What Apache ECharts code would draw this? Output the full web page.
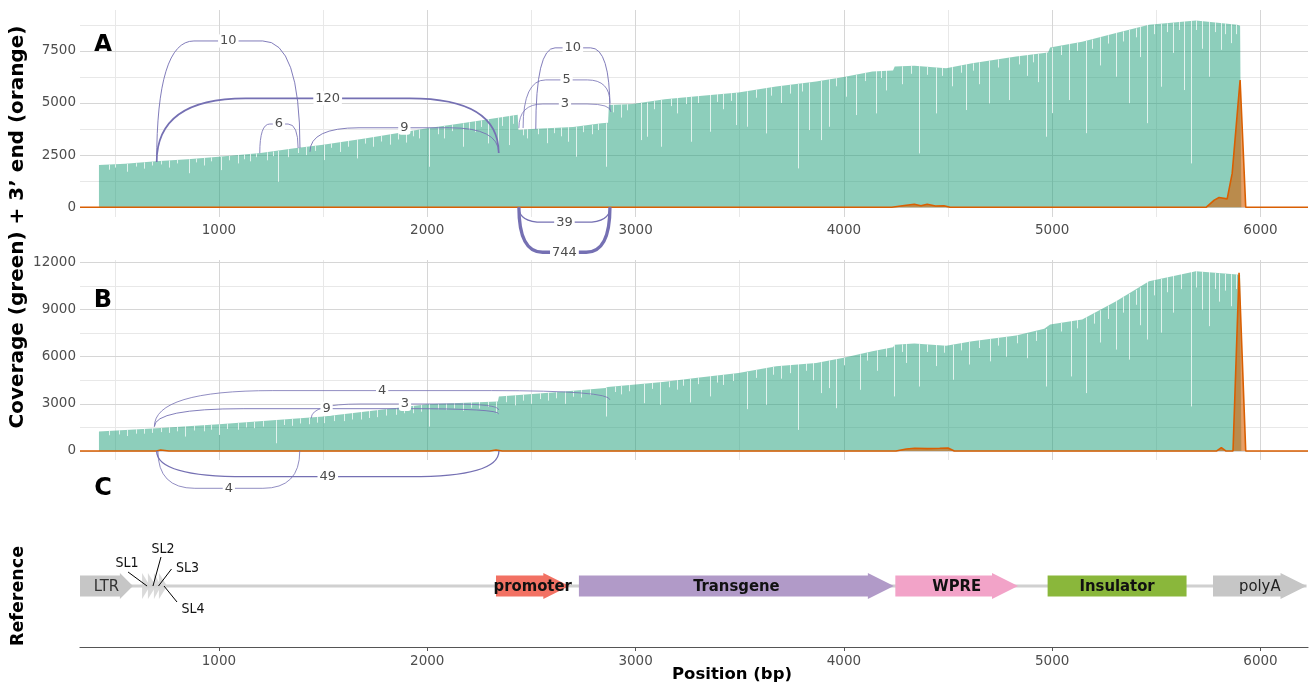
<!DOCTYPE html>
<html><head><meta charset="utf-8">
<script src="https://cdn.jsdelivr.net/npm/echarts/dist/echarts.min.js"></script>
<style>html,body{margin:0;padding:0;background:#fff}#c{width:1310px;height:685px}</style>
</head><body><div id="c"></div>
<script>
// ---------- tick values ----------
const xTicks = [1000, 2000, 3000, 4000, 5000, 6000];
const xMinor = [500, 1500, 2500, 3500, 4500, 5500];
const yTicksA = [0, 2500, 5000, 7500];
const yMinorA = [1250, 3750, 6250, 8750];
const yTicksB = [0, 3000, 6000, 9000, 12000];
const yMinorB = [1500, 4500, 7500, 10500];

// ---------- panel A : coverage envelope [position, depth] ----------
const coverageA = [[424,2020],[550,2080],[697,2200],[850,2300],[1000,2420],[1200,2600],[1363,2830],[1500,3000],[1700,3300],[2000,3790],[2150,4000],[2270,4180],[2434,4430],[2438,3700],[2500,3750],[2600,3800],[2700,3850],[2836,4030],[2868,4050],[2872,4900],[2986,4950],[3140,5180],[3307,5340],[3494,5500],[3675,5785],[3867,6025],[3993,6235],[4137,6505],[4236,6560],[4244,6745],[4338,6780],[4491,6670],[4616,6900],[4827,7230],[4980,7420],[4990,7660],[5144,7940],[5307,8360],[5465,8750],[5690,8960],[5888,8750],[5902,8700],[5908,0]];
// coverage dips [position, low, local top]
const dipsA = [[560,1700,2080],[640,1850,2150],[760,1900,2240],[858,1630,2300],[930,2000,2360],[1009,1780,2420],[1090,2100,2500],[1150,2200,2560],[1230,2250,2640],[1282,1220,2700],[1330,2400,2780],[1420,2500,2900],[1504,2260,3000],[1580,2650,3120],[1665,2340,3250],[1740,2900,3370],[1820,3000,3500],[1900,3100,3630],[1960,3300,3720],[2008,1940,3800],[2080,3300,3900],[2170,2900,4020],[2230,3600,4120],[2290,3060,4220],[2338,2620,4300],[2391,2980,4380],[2480,3300,3740],[2573,3070,3790],[2640,3400,3820],[2674,3140,3840],[2713,2420,3860],[2790,3500,3950],[2856,1940,4030],[2930,4300,4930],[3027,3220,5000],[3053,3380,5020],[3123,2900,5150],[3200,4500,5240],[3267,3140,5310],[3355,3620,5390],[3420,4700,5440],[3483,3940,5490],[3537,3860,5560],[3627,3540,5710],[3700,5000,5820],[3778,1860,5910],[3834,3700,5980],[3890,3220,6060],[3930,3860,6130],[4010,5300,6260],[4058,4420,6350],[4154,4500,6530],[4200,5600,6600],[4280,5900,6760],[4362,2580,6770],[4442,4500,6700],[4520,5800,6720],[4586,4660,6860],[4650,5900,6950],[4698,4980,7030],[4794,5140,7180],[4880,6300,7300],[4930,6000,7360],[4970,3380,7420],[5000,4510,7660],[5082,5140,7830],[5162,3550,7980],[5230,6800,8150],[5306,6260,8360],[5369,4990,8500],[5420,7200,8640],[5457,4030,8740],[5521,5780,8800],[5580,7400,8850],[5633,5620,8920],[5665,2100,8950],[5720,7600,8950],[5753,6260,8900],[5809,7550,8850],[5857,7870,8780],
 [470,1800,2040],[500,1900,2060],[600,1950,2110],[680,2000,2180],[720,2050,2210],[800,2100,2270],[890,2150,2330],[960,2200,2390],[1050,2250,2460],[1120,2300,2530],[1180,2400,2580],[1260,2450,2670],[1380,2600,2850],[1460,2700,2950],[1540,2850,3060],[1620,2900,3180],[1700,3050,3300],[1780,3150,3430],[1860,3250,3570],[1930,3400,3680],[2050,3500,3860],[2120,3650,3960],[2200,3700,4070],[2260,3850,4160],[2360,3900,4330],[2410,4000,4400],[2460,3450,3740],[2530,3500,3770],[2610,3550,3800],[2750,3600,3900],[2820,3700,4010],[2890,4550,4910],[2960,4650,4940],[3090,4700,5090],[3170,4850,5200],[3240,4950,5280],[3300,5000,5340],[3390,5050,5420],[3460,5100,5470],[3580,5250,5630],[3650,5350,5750],[3740,5450,5870],[3800,5550,5940],[3960,5800,6190],[4100,6050,6440],[4180,6200,6560],[4320,6400,6780],[4400,6350,6730],[4470,6300,6690],[4560,6450,6800],[4620,6550,6900],[4740,6700,7090],[4840,6850,7250],[4910,6950,7330],[5040,7300,7720],[5120,7500,7900],[5190,7600,8040],[5270,7850,8250],[5340,7950,8430],[5400,8150,8580],[5490,8300,8770],[5550,8400,8820],[5610,8500,8880],[5690,8500,8960],[5780,8400,8870],[5830,8300,8820],[5880,8300,8760]];
// 3' end counts
const endA = [[333,0],[4230,0],[4290,80],[4338,140],[4370,70],[4400,140],[4440,60],[4480,70],[4510,0],[5740,0],[5778,340],[5801,465],[5840,400],[5864,1620],[5902,6100],[5929,0],[6228,0]];
// junctions [start, end, y at start, y at end, apex, reads]
const junctionsA = [[701,1389,2168,2836,7975,10],[701,2343,2168,2600,5225,120],[1196,1380,2590,2830,3990,6],[1437,2343,2660,2600,3810,9],[2521,2877,3740,4660,7644,10],[2460,2877,3800,5000,6106,5],[2440,2882,3800,4567,4952,3],[2440,2877,0,0,-720,39],[2440,2877,0,0,-2160,744]];

// ---------- panel B ----------
const coverageB = [[424,1235],[700,1450],[1000,1700],[1503,2190],[2000,2980],[2339,3150],[2344,3470],[2600,3720],[2856,4000],[2866,4065],[2986,4210],[3130,4385],[3307,4680],[3494,4960],[3675,5385],[3867,5600],[3993,5920],[4137,6340],[4236,6600],[4244,6765],[4338,6830],[4491,6700],[4616,6980],[4827,7340],[4962,7770],[4990,8050],[5144,8360],[5307,9530],[5465,10800],[5690,11440],[5888,11230],[5902,11200],[5908,0]];
const dipsB = [[560,950,1350],[640,1100,1410],[760,1150,1500],[838,915,1580],[930,1250,1650],[1000,1020,1700],[1090,1350,1780],[1170,1450,1850],[1272,490,1960],[1350,1600,2040],[1430,1700,2120],[1504,1770,2190],[1600,1900,2340],[1680,2000,2480],[1760,2150,2610],[1850,2300,2760],[1930,2400,2880],[2008,1550,2990],[2090,2600,3040],[2170,2550,3080],[2250,2700,3120],[2330,2400,3150],[2420,2900,3540],[2500,3000,3620],[2580,3200,3720],[2660,3000,3800],[2740,3400,3880],[2856,2190,4000],[2930,3600,4140],[3039,3040,4270],[3119,2940,4370],[3200,3900,4500],[3263,3085,4600],[3355,3470,4760],[3420,4200,4850],[3537,2660,5020],[3626,2940,5270],[3700,4600,5420],[3778,1340,5530],[3850,4500,5590],[3890,3680,5650],[3930,4000,5760],[3962,2720,5840],[4075,3890,6150],[4160,5100,6400],[4242,3470,6760],[4300,5600,6800],[4362,4100,6800],[4440,5400,6740],[4522,4530,6760],[4600,5500,6950],[4700,5700,7120],[4780,6000,7260],[4880,5900,7450],[4970,4100,7760],[5090,4740,8270],[5162,3680,8500],[5230,6900,8950],[5306,6450,9530],[5369,5810,10000],[5420,8000,10400],[5457,7090,10750],[5521,7530,10950],[5580,8800,11150],[5665,2830,11400],[5720,9000,11420],[5753,7940,11380],[5800,9500,11300],[5857,9210,11250],
 [470,1000,1270],[520,1050,1310],[600,1100,1380],[680,1150,1440],[720,1200,1460],[800,1250,1540],[880,1300,1610],[960,1350,1670],[1040,1400,1740],[1130,1500,1820],[1210,1550,1900],[1310,1650,2000],[1390,1750,2080],[1470,1800,2160],[1550,1900,2260],[1640,2000,2410],[1720,2100,2550],[1800,2250,2680],[1890,2400,2820],[1970,2500,2940],[2050,2650,3010],[2130,2700,3060],[2210,2750,3100],[2290,2800,3130],[2380,3100,3500],[2460,3200,3580],[2540,3300,3670],[2620,3350,3750],[2700,3450,3840],[2780,3550,3920],[2900,3750,4100],[2970,3800,4190],[3080,3950,4320],[3160,4050,4420],[3230,4150,4550],[3300,4250,4670],[3390,4350,4810],[3470,4450,4920],[3580,4650,5150],[3660,4850,5350],[3740,4950,5480],[3820,5100,5570],[4000,5450,5940],[4110,5750,6260],[4200,6000,6560],[4280,6300,6780],[4400,6300,6770],[4480,6250,6720],[4560,6400,6860],[4650,6550,7040],[4740,6700,7190],[4830,6850,7350],[4920,7000,7600],[5040,7600,8150],[5120,7800,8320],[5200,8100,8750],[5270,8400,9250],[5340,8800,9780],[5400,9300,10250],[5490,9900,10850],[5550,10100,11050],[5620,10300,11280],[5690,10400,11440],[5780,10300,11330],[5830,10200,11270],[5880,10300,11230]];
const endB = [[333,0],[700,0],[720,60],[760,0],[2300,0],[2330,60],[2360,0],[4250,0],[4300,120],[4340,170],[4400,150],[4460,170],[4500,190],[4530,0],[5790,0],[5812,210],[5833,0],[5868,0],[5897,11340],[5929,0],[6228,0]];
const junctionsB = [[690,2877,1550,3255,3840,4],[690,2343,1550,2360,2690,9],[1443,2343,2080,2610,2990,3],[701,2344,0,0,-1637,49],[707,1388,0,0,-2376,4]];

// ---------- panel C : reference features ----------
const featNames  = ['LTR','SL1','SL2','SL3','SL4','promoter','Transgene','WPRE','Insulator','polyA'];
const featStart  = [333, 631, 659, 688, 712, 2330, 2728, 4247, 4978, 5772];
const featEnd    = [587, 669, 698, 722, 751, 2682, 4240, 4836, 5645, 6221];
const featStrand = [1, 1, 1, 1, 1, 1, 1, 1, 0, 1];
const backbone   = [333, 6221];

// ---------- styles ----------
const GREEN = '#1b9e77', ORANGE = '#d95f02', PURPLE = '#7570b3';
const featStyle = {
  LTR:{fill:'#c6c6c6', head:13, text:true, bold:false, color:'#333'},
  SL1:{fill:'#d4d4d4', tag:[-19,-23], lead:[-18,-14]},
  SL2:{fill:'#d4d4d4', tag:[11,-37], lead:[9,-29]},
  SL3:{fill:'#d4d4d4', tag:[30,-18], lead:[14,-17]},
  SL4:{fill:'#d4d4d4', tag:[30,23], lead:[14,16]},
  promoter:{fill:'#f27163', head:26, text:true, bold:true, color:'#111'},
  Transgene:{fill:'#b19ac8', head:26, text:true, bold:true, color:'#111'},
  WPRE:{fill:'#f2a3c8', head:26, text:true, bold:true, color:'#111'},
  Insulator:{fill:'#8ab73b', head:0, text:true, bold:true, color:'#111'},
  polyA:{fill:'#c6c6c6', head:26, text:true, bold:false, color:'#222'}
};
const FONT = '"DejaVu Sans", "Liberation Sans", Arial, sans-serif';
const COND = '"DejaVu Sans Condensed", "Liberation Sans Narrow", "DejaVu Sans", sans-serif';

function gridLines(xi, major, minor, ymaj, ymin) {
  const maj = {color:'#d6d6d6', width:1, type:'solid'};
  const mnr = {color:'#e8e8e8', width:1, type:'solid'};
  const d = [];
  minor.forEach(v => d.push({xAxis:v, lineStyle:mnr}));
  ymin.forEach(v => d.push({yAxis:v, lineStyle:mnr}));
  major.forEach(v => d.push({xAxis:v, lineStyle:maj}));
  ymaj.forEach(v => d.push({yAxis:v, lineStyle:maj}));
  return {type:'line', xAxisIndex:xi, yAxisIndex:xi, data:[[3000,0]], z:1, showSymbol:false, symbol:'none',
    lineStyle:{opacity:0}, silent:true,
    markLine:{z:1, symbol:['none','none'], silent:true, animation:false, label:{show:false}, emphasis:{disabled:true}, data:d}};
}

function arcItem(params, api) {
  const x1 = api.value(0), x2 = api.value(1), f1 = api.value(2), f2 = api.value(3), top = api.value(4), n = api.value(5);
  const p1 = api.coord([x1, f1]), p2 = api.coord([x2, f2]), pt = api.coord([x1, top]);
  const yt = pt[1], w = p2[0] - p1[0], rx = 0.26 * w;
  const d = 'M' + p1[0] + ',' + p1[1] + ' Q' + p1[0] + ',' + yt + ' ' + (p1[0] + rx) + ',' + yt +
            ' L' + (p2[0] - rx) + ',' + yt + ' Q' + p2[0] + ',' + yt + ' ' + p2[0] + ',' + p2[1];
  return {type:'group', children:[
    {type:'path', shape:{pathData:d}, style:{fill:null, stroke:PURPLE, lineWidth:0.6 + 0.1 * Math.sqrt(n)}},
    {type:'text', x:(p1[0] + p2[0]) / 2, y:yt, z2:10, style:{text:String(n), fill:'#4d4d4d', font:'13px ' + FONT,
      align:'center', verticalAlign:'middle', textAlign:'center', textVerticalAlign:'middle',
      backgroundColor:'#ffffff', padding:[1,2,0,2], borderRadius:3}}
  ]};
}

function dipItem(params, api) {
  const a = api.coord([api.value(0), api.value(1)]), b = api.coord([api.value(0), api.value(2)]);
  const x = Math.round(a[0]) + 0.5;
  return {type:'line', shape:{x1:x, y1:a[1], x2:x, y2:b[1]}, style:{stroke:'#ffffff', lineWidth:1, opacity:0.75}};
}

function featItem(params, api) {
  const i = params.dataIndex, name = featNames[i], st = featStyle[name];
  const s = api.coord([api.value(0), 0]), e = api.coord([api.value(1), 0]);
  const x0 = s[0], x1 = e[0], yc = s[1];
  const bh = 10.5, hh = 13;
  const children = [];
  let pts;
  if (featStrand[i]) {
    const head = Math.min(st.head === undefined ? 26 : st.head, x1 - x0);
    const hx = x1 - head;
    pts = [[x0, yc - bh], [hx, yc - bh], [hx, yc - hh], [x1, yc], [hx, yc + hh], [hx, yc + bh], [x0, yc + bh]];
    if (head >= x1 - x0) pts = [[x0, yc - hh], [x1, yc], [x0, yc + hh]];
  } else {
    pts = [[x0, yc - bh], [x1, yc - bh], [x1, yc + bh], [x0, yc + bh]];
  }
  children.push({type:'polygon', shape:{points:pts}, style:{fill:st.fill, stroke:null, opacity: st.tag ? 0.85 : 1}});
  if (st.text) {
    children.push({type:'text', x:(x0 + x1) / 2, y:yc + 1, z2:5, style:{text:name, fill:st.color,
      font:(st.bold ? 'bold ' : '') + '16.5px ' + COND, align:'center', verticalAlign:'middle', textAlign:'center', textVerticalAlign:'middle'}});
  }
  if (st.tag) {
    const xc = (x0 + x1) / 2;
    children.push({type:'line', z2:6, shape:{x1:xc + st.lead[0], y1:yc + st.lead[1], x2:xc + 1, y2:yc}, style:{stroke:'#000', lineWidth:1}});
    children.push({type:'text', x:xc + st.tag[0], y:yc + st.tag[1], z2:6, style:{text:name, fill:'#111',
      font:'14px ' + COND, align:'center', verticalAlign:'middle', textAlign:'center', textVerticalAlign:'middle'}});
  }
  return {type:'group', children};
}

const XMIN = 333, XMAX = 6228;
const tickLabel = {color:'#4d4d4d', fontSize:13.5, fontFamily:FONT};
function xAxisFor(gi, showLabels, showLine) {
  return {type:'value', gridIndex:gi, min:XMIN, max:XMAX, position:'bottom',
    axisLine:{show:showLine, onZero:false, lineStyle:{color:'#555', width:1.2}},
    axisTick:{show:showLine, customValues:xTicks, length:4, lineStyle:{color:'#555'}},
    splitLine:{show:false},
    axisLabel:{show:showLabels, customValues:xTicks, margin:showLine ? 7 : 6, ...tickLabel,
      formatter:v => (v % 1000 === 0 ? String(v) : '')}};
}
function yAxisFor(gi, min, max, ticks, step) {
  return {type:'value', gridIndex:gi, min, max, axisLine:{show:false}, axisTick:{show:false}, splitLine:{show:false},
    axisLabel:{customValues:ticks, margin:4, ...tickLabel, formatter:v => (v % step === 0 ? String(v) : '')}};
}
const T = (x, y, text, font, rot, align) => ({type:'text', x, y, rotation:rot || 0, style:{text, font, fill:'#000',
  align:align || 'center', verticalAlign:'middle', textAlign:align || 'center', textVerticalAlign:'middle'}});

const option = {
  animation:false,
  backgroundColor:'#ffffff',
  textStyle:{fontFamily:FONT},
  grid:[
    {left:80, width:1228, top:10, height:207},
    {left:80, width:1228, top:260, height:200},
    {left:80, width:1228, top:525, height:122}
  ],
  xAxis:[xAxisFor(0, true, false), xAxisFor(1, false, false), xAxisFor(2, true, true)],
  yAxis:[
    yAxisFor(0, -470, 9460, yTicksA, 2500),
    yAxisFor(1, -575, 12150, yTicksB, 3000),
    {type:'category', gridIndex:2, data:['Reference'], show:false}
  ],
  series:[
    gridLines(0, xTicks, xMinor, yTicksA, yMinorA),
    gridLines(1, xTicks, xMinor, yTicksB, yMinorB),
    // panel A
    {type:'line', xAxisIndex:0, yAxisIndex:0, data:coverageA, z:2, showSymbol:false, symbol:'none', silent:true,
      lineStyle:{width:0}, areaStyle:{color:GREEN, opacity:0.5, origin:'auto'}},
    {type:'custom', xAxisIndex:0, yAxisIndex:0, data:dipsA, z:3, renderItem:dipItem, silent:true, encode:{x:0, y:[1,2]}},
    {type:'line', xAxisIndex:0, yAxisIndex:0, data:endA, z:4, showSymbol:false, symbol:'none', silent:true,
      lineStyle:{color:ORANGE, width:1.6}, areaStyle:{color:ORANGE, opacity:0.6, origin:'auto'}},
    {type:'custom', xAxisIndex:0, yAxisIndex:0, data:junctionsA, z:5, renderItem:arcItem, silent:true, clip:false, encode:{x:[0,1], y:[2,3,4]}},
    // panel B
    {type:'line', xAxisIndex:1, yAxisIndex:1, data:coverageB, z:2, showSymbol:false, symbol:'none', silent:true,
      lineStyle:{width:0}, areaStyle:{color:GREEN, opacity:0.5, origin:'auto'}},
    {type:'custom', xAxisIndex:1, yAxisIndex:1, data:dipsB, z:3, renderItem:dipItem, silent:true, encode:{x:0, y:[1,2]}},
    {type:'line', xAxisIndex:1, yAxisIndex:1, data:endB, z:4, showSymbol:false, symbol:'none', silent:true,
      lineStyle:{color:ORANGE, width:1.6}, areaStyle:{color:ORANGE, opacity:0.6, origin:'auto'}},
    {type:'custom', xAxisIndex:1, yAxisIndex:1, data:junctionsB, z:5, renderItem:arcItem, silent:true, clip:false, encode:{x:[0,1], y:[2,3,4]}},
    // panel C
    {type:'line', xAxisIndex:2, yAxisIndex:2, data:[[backbone[0],0],[backbone[1],0]], z:2, showSymbol:false, symbol:'none', silent:true,
      lineStyle:{color:'#d0d0d0', width:3}},
    {type:'custom', xAxisIndex:2, yAxisIndex:2, data:featStart.map((s, i) => [s, featEnd[i], 0]), z:3, renderItem:featItem, silent:true, clip:false, encode:{x:[0,1], y:2}}
  ],
  graphic:[
    T(18, 227, 'Coverage (green) + 3\u2019 end (orange)', 'bold 20px ' + FONT, Math.PI / 2),
    T(18, 596, 'Reference', 'bold 17.5px ' + FONT, Math.PI / 2),
    T(672, 675, 'Position (bp)', 'bold 16.5px ' + FONT, 0, 'left'),
    T(103, 46, 'A', 'bold 24px ' + FONT),
    T(103, 301, 'B', 'bold 24px ' + FONT),
    T(103, 489, 'C', 'bold 24px ' + FONT)
  ]
};
const chart = echarts.init(document.getElementById('c'), null, {renderer:'canvas'});
chart.setOption(option);
</script></body></html>
